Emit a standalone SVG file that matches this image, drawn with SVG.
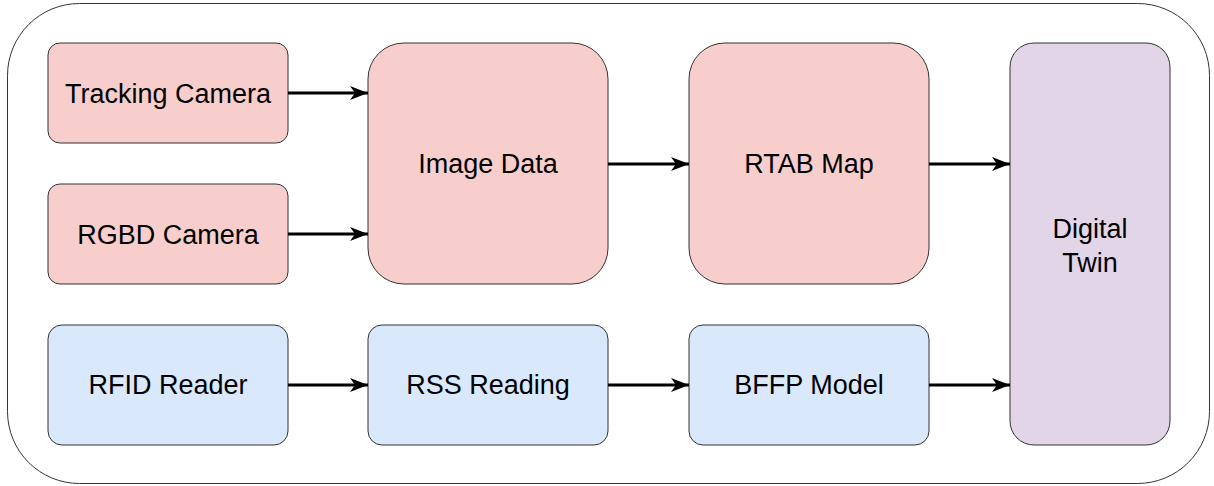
<svg xmlns="http://www.w3.org/2000/svg" width="1214" height="486" viewBox="0 0 1214 486">
<style>
.n{stroke:#333;stroke-width:1}
.r{fill:#f8cecc}
.b{fill:#dae8fc}
.p{fill:#e1d5e7}
text{font-family:"Liberation Sans",Arial,sans-serif;font-size:27px;fill:#000;text-anchor:middle;dominant-baseline:central}
.c{stroke:#000;stroke-width:3;fill:none;marker-end:url(#a)}
</style>
<defs>
<marker id="a" markerUnits="userSpaceOnUse" markerWidth="20" markerHeight="18" refX="18" refY="9" orient="auto">
<path d="M0,2 L18,9 L0,16 L5,9 Z" fill="#000"/>
</marker>
</defs>
<rect id="frame" x="7.5" y="3.5" width="1202" height="480" rx="72" ry="72" fill="#fff" stroke="#333"/>
<g id="tracking"><rect class="n r" x="48" y="43" width="240" height="100" rx="12"/><text x="168" y="94">Tracking Camera</text></g>
<g id="rgbd"><rect class="n r" x="48" y="184" width="240" height="100" rx="12"/><text x="168" y="235">RGBD Camera</text></g>
<g id="rfid"><rect class="n b" x="48" y="325" width="240" height="120" rx="14"/><text x="168" y="385">RFID Reader</text></g>
<g id="image"><rect class="n r" x="368" y="43" width="240" height="241" rx="36"/><text x="488" y="164">Image Data</text></g>
<g id="rtab"><rect class="n r" x="689" y="43" width="240" height="241" rx="36"/><text x="809" y="164">RTAB Map</text></g>
<g id="rss"><rect class="n b" x="368" y="325" width="240" height="120" rx="14"/><text x="488" y="385">RSS Reading</text></g>
<g id="bffp"><rect class="n b" x="689" y="325" width="240" height="120" rx="14"/><text x="809" y="385">BFFP Model</text></g>
<g id="twin"><rect class="n p" x="1010" y="43" width="160" height="402" rx="24"/><text x="1090" y="229">Digital</text><text x="1090" y="263">Twin</text></g>
<g id="connectors">
<line class="c" x1="288" y1="93" x2="368" y2="93"/>
<line class="c" x1="288" y1="234" x2="368" y2="234"/>
<line class="c" x1="608" y1="164" x2="689" y2="164"/>
<line class="c" x1="929" y1="164" x2="1010" y2="164"/>
<line class="c" x1="288" y1="385" x2="368" y2="385"/>
<line class="c" x1="608" y1="385" x2="689" y2="385"/>
<line class="c" x1="929" y1="385" x2="1010" y2="385"/>
</g>
</svg>
